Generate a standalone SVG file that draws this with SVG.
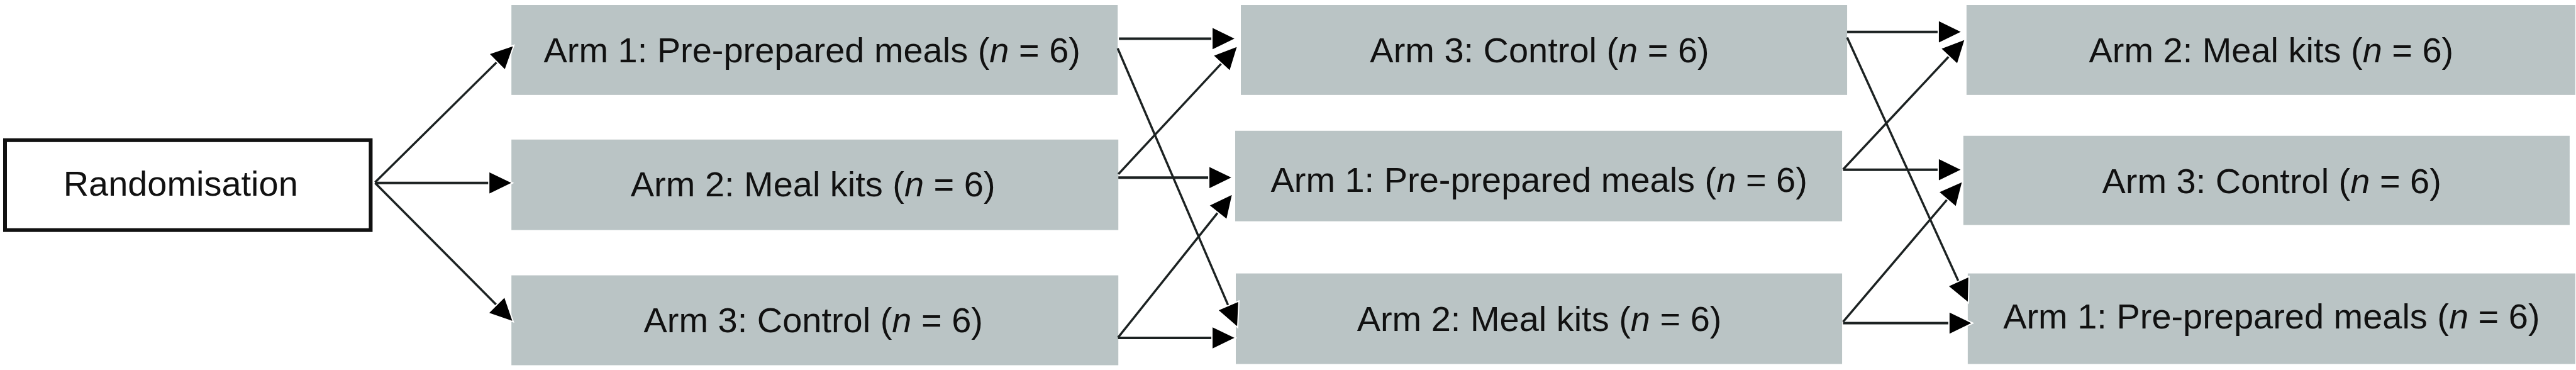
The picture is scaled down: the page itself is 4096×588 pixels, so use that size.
<svg xmlns="http://www.w3.org/2000/svg" width="4096" height="588" viewBox="0 0 4096 588">
<style>
.box{fill:#bac4c5}
.rand{fill:#fff;stroke:#111;stroke-width:6}
.lbl{font-family:"Liberation Sans",Arial,sans-serif;font-size:56px;fill:#111;text-anchor:middle}
.c{fill:none;stroke:#1c2222;stroke-width:4}
.d{fill:none;stroke:#1c2222;stroke-width:3.5}
</style>
<defs>
<marker id="ah" markerUnits="userSpaceOnUse" markerWidth="44" markerHeight="44" refX="8" refY="18.5" orient="auto" overflow="visible">
<path d="M0,0 L38,18.5 L0,37 Z" fill="#000" stroke="#fff" stroke-width="2" stroke-linejoin="miter"/>
</marker>
</defs>
<rect width="4096" height="588" fill="#fff"/>
<g transform="scale(0.999)">
<g id="randomisation">
<rect class="rand" x="8" y="223" width="582" height="143"/>
<text class="lbl" x="287.5" y="311">Randomisation</text>
</g>
<g id="p1-arm1">
<rect class="box" x="814" y="8" width="965" height="143"/>
<text class="lbl" x="1292.5" y="99.5">Arm 1: Pre-prepared meals (<tspan font-style="italic">n</tspan> = 6)</text>
</g>
<g id="p1-arm2">
<rect class="box" x="814" y="222" width="966" height="144"/>
<text class="lbl" x="1294" y="312.7">Arm 2: Meal kits (<tspan font-style="italic">n</tspan> = 6)</text>
</g>
<g id="p1-arm3">
<rect class="box" x="814" y="438" width="966" height="143"/>
<text class="lbl" x="1294.5" y="529">Arm 3: Control (<tspan font-style="italic">n</tspan> = 6)</text>
</g>
<g id="p2-arm3">
<rect class="box" x="1975" y="8" width="965" height="143"/>
<text class="lbl" x="2450.5" y="99.4">Arm 3: Control (<tspan font-style="italic">n</tspan> = 6)</text>
</g>
<g id="p2-arm1">
<rect class="box" x="1966" y="208" width="966" height="144"/>
<text class="lbl" x="2449.6" y="305.6">Arm 1: Pre-prepared meals (<tspan font-style="italic">n</tspan> = 6)</text>
</g>
<g id="p2-arm2">
<rect class="box" x="1967" y="435" width="965" height="144"/>
<text class="lbl" x="2450" y="527">Arm 2: Meal kits (<tspan font-style="italic">n</tspan> = 6)</text>
</g>
<g id="p3-arm2">
<rect class="box" x="3130" y="8" width="969" height="143"/>
<text class="lbl" x="3615" y="99.4">Arm 2: Meal kits (<tspan font-style="italic">n</tspan> = 6)</text>
</g>
<g id="p3-arm3">
<rect class="box" x="3125" y="216" width="965" height="142"/>
<text class="lbl" x="3615.8" y="307.5">Arm 3: Control (<tspan font-style="italic">n</tspan> = 6)</text>
</g>
<g id="p3-arm1">
<rect class="box" x="3132" y="435" width="967" height="144"/>
<text class="lbl" x="3615.5" y="523">Arm 1: Pre-prepared meals (<tspan font-style="italic">n</tspan> = 6)</text>
</g>
<g id="connectors">
<line class="d" x1="597" y1="290" x2="796.6" y2="93.1" marker-end="url(#ah)"/>
<line class="c" x1="597" y1="291" x2="786" y2="291" marker-end="url(#ah)"/>
<line class="d" x1="597" y1="291" x2="795.8" y2="490.7" marker-end="url(#ah)"/>
<line class="c" x1="1781" y1="61.5" x2="1937" y2="61.5" marker-end="url(#ah)"/>
<line class="d" x1="1779" y1="77" x2="1958.1" y2="493.4" marker-end="url(#ah)"/>
<line class="d" x1="1780" y1="277" x2="1949.6" y2="95" marker-end="url(#ah)"/>
<line class="c" x1="1780" y1="282.5" x2="1932" y2="282.5" marker-end="url(#ah)"/>
<line class="d" x1="1779.5" y1="537" x2="1943.3" y2="331.9" marker-end="url(#ah)"/>
<line class="c" x1="1779.5" y1="537.5" x2="1937" y2="537.5" marker-end="url(#ah)"/>
<line class="c" x1="2940" y1="50.7" x2="3093" y2="50.7" marker-end="url(#ah)"/>
<line class="d" x1="2940" y1="59.5" x2="3120.5" y2="454.7" marker-end="url(#ah)"/>
<line class="d" x1="2933.5" y1="269.5" x2="3107.5" y2="83.9" marker-end="url(#ah)"/>
<line class="c" x1="2933.5" y1="270" x2="3093" y2="270" marker-end="url(#ah)"/>
<line class="d" x1="2933.5" y1="512" x2="3104.5" y2="311.3" marker-end="url(#ah)"/>
<line class="c" x1="2933.5" y1="514" x2="3110" y2="514" marker-end="url(#ah)"/>
</g>
</g>
</svg>
